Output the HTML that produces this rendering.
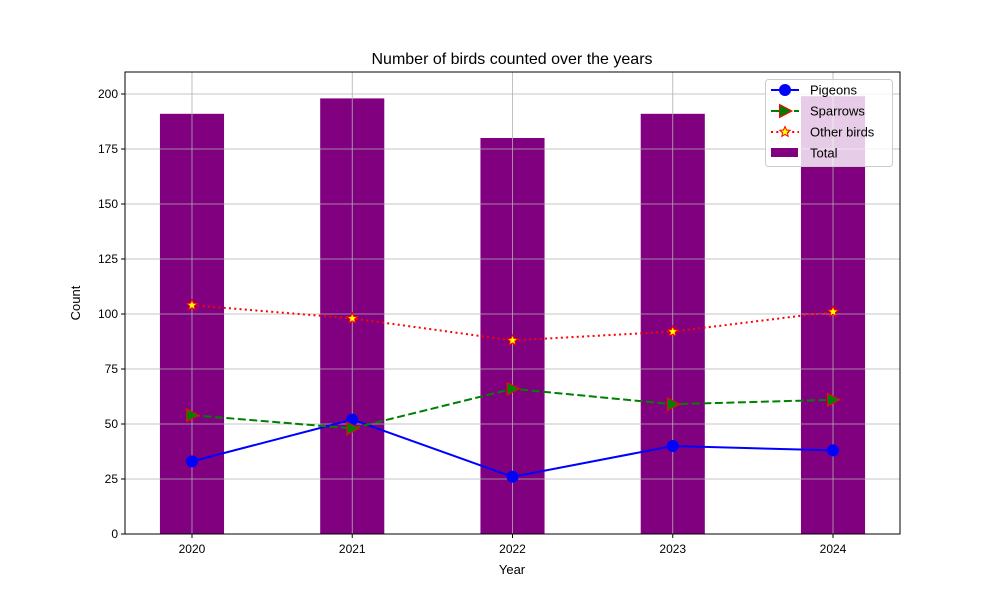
<!DOCTYPE html>
<html><head><meta charset="utf-8"><style>
body{margin:0;background:#fff}
svg text{font-family:"Liberation Sans","DejaVu Sans",sans-serif;fill:#000}
</style></head><body>
<svg id="chart" width="1000" height="600" xmlns="http://www.w3.org/2000/svg">
<rect width="1000" height="600" fill="#fff"/>
<text x="512" y="64" font-size="16" text-anchor="middle">Number of birds counted over the years</text>
<g id="bars"></g><g id="grid"></g><g id="lines"></g><g id="axes"></g>
<text x="512" y="574" font-size="13" text-anchor="middle">Year</text>
<text x="80" y="303" font-size="13" text-anchor="middle" transform="rotate(-90 80 303)">Count</text>
<g id="legend"></g>
</svg>
<script>
const years=["2020","2021","2022","2023","2024"];
const pigeons=[33,52,26,40,38];
const sparrows=[54,48,66,59,61];
const others=[104,98,88,92,101];
const totals=[191,198,180,191,199];
const yTicks=[0,25,50,75,100,125,150,175,200];
const NS="http://www.w3.org/2000/svg";
const L=125,R=900,T=72,B=534,YMAX=210;
const step=(R-L)/(years.length-1+0.836);
const xs=i=>L+0.418*step+i*step;
const ys=v=>B-(B-T)*v/YMAX;
function mk(tag,attrs,parent){const e=document.createElementNS(NS,tag);for(const k in attrs)e.setAttribute(k,attrs[k]);parent.appendChild(e);return e;}
const gb=document.getElementById('bars'),gg=document.getElementById('grid'),gl=document.getElementById('lines'),ga=document.getElementById('axes'),lg=document.getElementById('legend');
const bw=0.4*step;
totals.forEach((v,i)=>{const r=mk('rect',{x:xs(i)-bw/2,y:ys(v),width:bw,height:B-ys(v),fill:'#800080'},gb);

});
years.forEach((y,i)=>{const x=xs(i);
mk('line',{x1:x,x2:x,y1:T,y2:B,stroke:'#b0b0b0','stroke-width':0.8},gg);
mk('line',{x1:x,x2:x,y1:B,y2:B+4,stroke:'#000'},ga);
const t=mk('text',{x:x,y:B+19,'font-size':12,'text-anchor':'middle'},ga);t.textContent=y;

});
yTicks.forEach(v=>{const y=ys(v);
mk('line',{x1:L,x2:R,y1:y,y2:y,stroke:'#b0b0b0','stroke-width':0.8},gg);
mk('line',{x1:L-4,x2:L,y1:y,y2:y,stroke:'#000'},ga);
const t=mk('text',{x:L-7,y:y+4,'font-size':12,'text-anchor':'end'},ga);t.textContent=v;

});
mk('rect',{x:L,y:T,width:R-L,height:B-T,fill:'none',stroke:'#000','stroke-width':1},ga);
function star(cx,cy,r){let p=[];for(let k=0;k<10;k++){const a=-Math.PI/2+k*Math.PI/5,rr=k%2?r*0.45:r;p.push((cx+rr*Math.cos(a)).toFixed(1)+','+(cy+rr*Math.sin(a)).toFixed(1));}return p.join(' ');}
function marker(type,cx,cy,parent){
if(type==='circle')return mk('circle',{cx:cx,cy:cy,r:5.5,fill:'blue',stroke:'blue'},parent);
if(type==='tri')return mk('polygon',{points:`${cx-5.5},${cy-6.5} ${cx+7},${cy} ${cx-5.5},${cy+6.5}`,fill:'green',stroke:'red','stroke-width':1},parent);
return mk('polygon',{points:star(cx,cy,5.5),fill:'yellow',stroke:'red','stroke-width':1},parent);}
const series=[{name:'pigeons',d:pigeons,c:'blue',dash:'',m:'circle'},{name:'sparrows',d:sparrows,c:'green',dash:'8,3.5',m:'tri'},{name:'other-birds',d:others,c:'red',dash:'2,3.3',m:'star'}];
series.forEach(s=>{const pl=mk('polyline',{points:s.d.map((v,i)=>xs(i)+','+ys(v)).join(' '),fill:'none',stroke:s.c,'stroke-width':2,'stroke-dasharray':s.dash},gl);


s.d.forEach((v,i)=>{const m=marker(s.m,xs(i),ys(v),gl);

});});
mk('rect',{x:765.5,y:79.5,width:127,height:87,rx:3,fill:'rgba(255,255,255,0.8)',stroke:'#ccc'},lg);
const items=[['Pigeons','blue','','circle'],['Sparrows','green','8,3.5','tri'],['Other birds','red','2,3.3','star'],['Total']];
items.forEach((it,k)=>{const cy=90+k*21;
if(it.length>1){mk('line',{x1:771,x2:799,y1:cy,y2:cy,stroke:it[1],'stroke-width':2,'stroke-dasharray':it[2]},lg);marker(it[3],785,cy,lg);}
else mk('rect',{x:771,y:cy-5,width:27,height:9,fill:'#800080'},lg);
const t=mk('text',{x:810,y:cy+4.5,'font-size':13},lg);t.textContent=it[0];

});
</script>
</body></html>
